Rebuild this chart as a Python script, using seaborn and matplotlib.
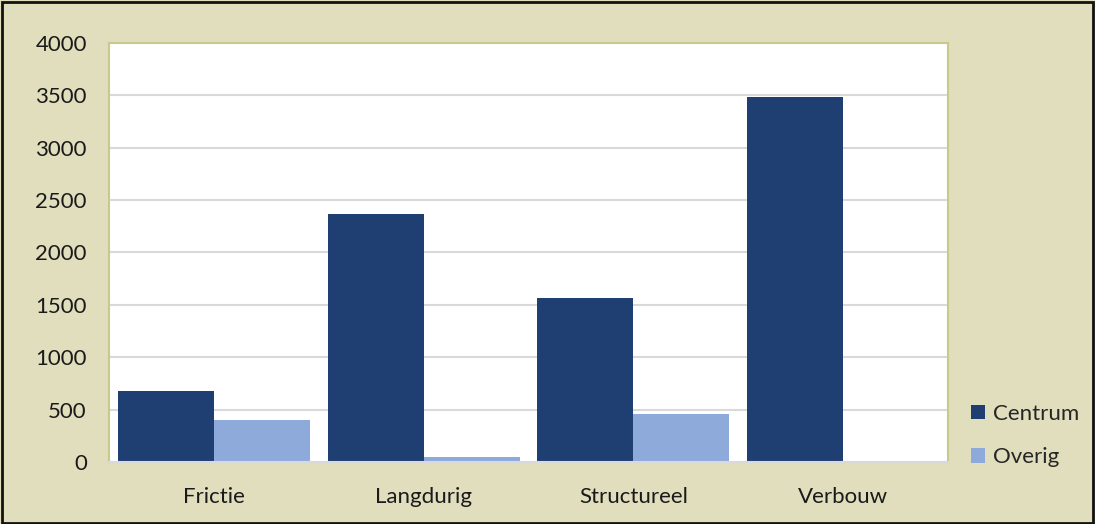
import pandas as pd
import matplotlib
matplotlib.use("Agg")
import matplotlib.pyplot as plt
import seaborn as sns
from matplotlib.patches import Rectangle

# data
categories = ["Frictie", "Langdurig", "Structureel", "Verbouw"]
centrum = [675, 2365, 1570, 3480]
overig = [405, 52, 457, 0]
series = ["Centrum", "Overig"]
yticks = [0, 500, 1000, 1500, 2000, 2500, 3000, 3500, 4000]

df = pd.DataFrame({
    "categorie": categories * 2,
    "waarde": centrum + overig,
    "reeks": [series[0]] * len(categories) + [series[1]] * len(categories),
})

sns.set_style("white")
plt.rcParams["font.family"] = ["Lato", "DejaVu Sans"]

bg = "#E1DEBD"
fig = plt.figure(figsize=(10.95, 5.24), dpi=100, facecolor=bg)
ax = fig.add_axes([109 / 1095, 61.7 / 524, 839 / 1095, 419.6 / 524])

sns.barplot(data=df, x="categorie", y="waarde", hue="reeks",
            palette=["#1F3F73", "#8EAADB"], width=0.915, gap=0,
            saturation=1, linewidth=0, ax=ax)

ax.set_ylim(0, 4000)
ax.set_yticks(yticks)
ax.set_xlim(-0.5, 3.5)
ax.set_facecolor("white")
ax.grid(axis="y", color="#D9D9D9", lw=1.5)
ax.set_axisbelow(True)
ax.set_xlabel("")
ax.set_ylabel("")
ax.tick_params(axis="y", length=0, pad=16, labelsize=16, labelcolor="#1a1a1a")
ax.tick_params(axis="x", length=0, pad=18, labelsize=16, labelcolor="#1a1a1a")
for s in ax.spines.values():
    s.set_color("#C9C98C")
    s.set_linewidth(1.5)
ax.spines["bottom"].set_color("#D9D9D9")

leg = ax.legend(loc="center left", bbox_to_anchor=(1.003, 0.064), frameon=False,
                fontsize=16, handlelength=0.65, handleheight=0.65,
                handletextpad=0.35, labelspacing=1.05)

fig.patches.append(Rectangle((0.002, 0.002), 0.996, 0.994, transform=fig.transFigure,
                             fill=False, edgecolor="#111111", lw=2))

fig.savefig("out.png", dpi=100, facecolor=bg)
